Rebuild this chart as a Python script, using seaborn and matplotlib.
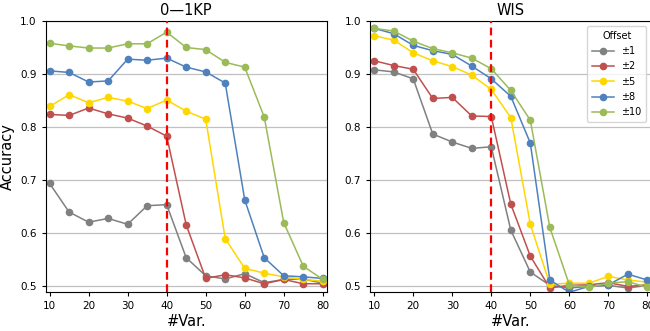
import numpy as np
import pandas as pd
import seaborn as sns
import matplotlib.pyplot as plt
from matplotlib.lines import Line2D

n_var = [10, 15, 20, 25, 30, 35, 40, 45, 50, 55, 60, 65, 70, 75, 80]
offsets = ['±1', '±2', '±5', '±8', '±10']
colors = ['#808080', '#c0504d', '#ffd700', '#4f81bd', '#9bbb59']

# 0—1KP
kp_1 = [0.694, 0.640, 0.621, 0.628, 0.617, 0.652, 0.654, 0.554, 0.520, 0.514, 0.524, 0.507, 0.513, 0.514, 0.506]
kp_2 = [0.824, 0.822, 0.836, 0.825, 0.817, 0.802, 0.783, 0.616, 0.515, 0.522, 0.516, 0.505, 0.513, 0.505, 0.505]
kp_5 = [0.839, 0.861, 0.846, 0.856, 0.849, 0.835, 0.851, 0.830, 0.815, 0.590, 0.534, 0.525, 0.518, 0.513, 0.510]
kp_8 = [0.906, 0.903, 0.885, 0.887, 0.928, 0.926, 0.930, 0.913, 0.904, 0.883, 0.663, 0.554, 0.520, 0.518, 0.515]
kp_10 = [0.958, 0.953, 0.949, 0.949, 0.957, 0.957, 0.979, 0.950, 0.946, 0.922, 0.913, 0.819, 0.620, 0.538, 0.513]

# WIS
wis_1 = [0.908, 0.904, 0.891, 0.787, 0.772, 0.760, 0.763, 0.606, 0.527, 0.502, 0.497, 0.500, 0.502, 0.497, 0.502]
wis_2 = [0.925, 0.916, 0.909, 0.854, 0.856, 0.821, 0.820, 0.655, 0.557, 0.497, 0.502, 0.503, 0.507, 0.500, 0.503]
wis_5 = [0.972, 0.964, 0.940, 0.925, 0.914, 0.898, 0.871, 0.818, 0.617, 0.504, 0.506, 0.506, 0.519, 0.512, 0.508]
wis_8 = [0.986, 0.976, 0.954, 0.944, 0.937, 0.915, 0.891, 0.858, 0.770, 0.512, 0.489, 0.500, 0.503, 0.523, 0.512]
wis_10 = [0.986, 0.981, 0.962, 0.948, 0.940, 0.930, 0.910, 0.869, 0.813, 0.611, 0.503, 0.498, 0.506, 0.509, 0.498]


def to_long(series):
    rows = []
    for off, vals in zip(offsets, series):
        for x, v in zip(n_var, vals):
            rows.append({'var': x, 'acc': v, 'Offset': off})
    return pd.DataFrame(rows)


df_kp = to_long([kp_1, kp_2, kp_5, kp_8, kp_10])
df_wis = to_long([wis_1, wis_2, wis_5, wis_8, wis_10])

fig = plt.figure(figsize=(6.5, 3.31), dpi=100)
ax1 = fig.add_axes([0.0703, 0.1187, 0.4323, 0.818])
ax2 = fig.add_axes([0.5697, 0.1187, 0.4323, 0.818])

pal = dict(zip(offsets, colors))
for ax, df, title in [(ax1, df_kp, '0—1KP'), (ax2, df_wis, 'WIS')]:
    sns.lineplot(data=df, x='var', y='acc', hue='Offset', hue_order=offsets,
                 palette=pal, marker='o', markersize=5.5, markeredgewidth=0,
                 linewidth=1.1, legend=False, ax=ax)
    ax.axvline(40, color='#ff0000', linestyle='--', linewidth=1.6, dashes=(3.5, 2), zorder=5)
    ax.set_xlim(9, 81)
    ax.set_ylim(0.49, 1.0)
    ax.set_xticks(range(10, 81, 10))
    ax.set_yticks([0.5, 0.6, 0.7, 0.8, 0.9, 1.0])
    ax.yaxis.grid(True, color='#c0c0c0', linewidth=0.9)
    ax.set_axisbelow(True)
    ax.tick_params(labelsize=7.5, length=3, width=0.8)
    ax.set_title(title, fontsize=10.5, pad=4)
    ax.set_xlabel('#Var.', fontsize=10.5, labelpad=2)
    ax.set_ylabel('')

ax1.set_ylabel('Accuracy', fontsize=10.5, labelpad=4)

handles = [Line2D([], [], color=c, marker='o', markersize=5.5, markeredgewidth=0, linewidth=1.1)
           for c in colors]
ax2.legend(handles, offsets, title='Offset', loc='upper right', fontsize=7,
           title_fontsize=7, handlelength=2.2, labelspacing=0.55, borderpad=0.5)

plt.savefig('out.png', dpi=100)
